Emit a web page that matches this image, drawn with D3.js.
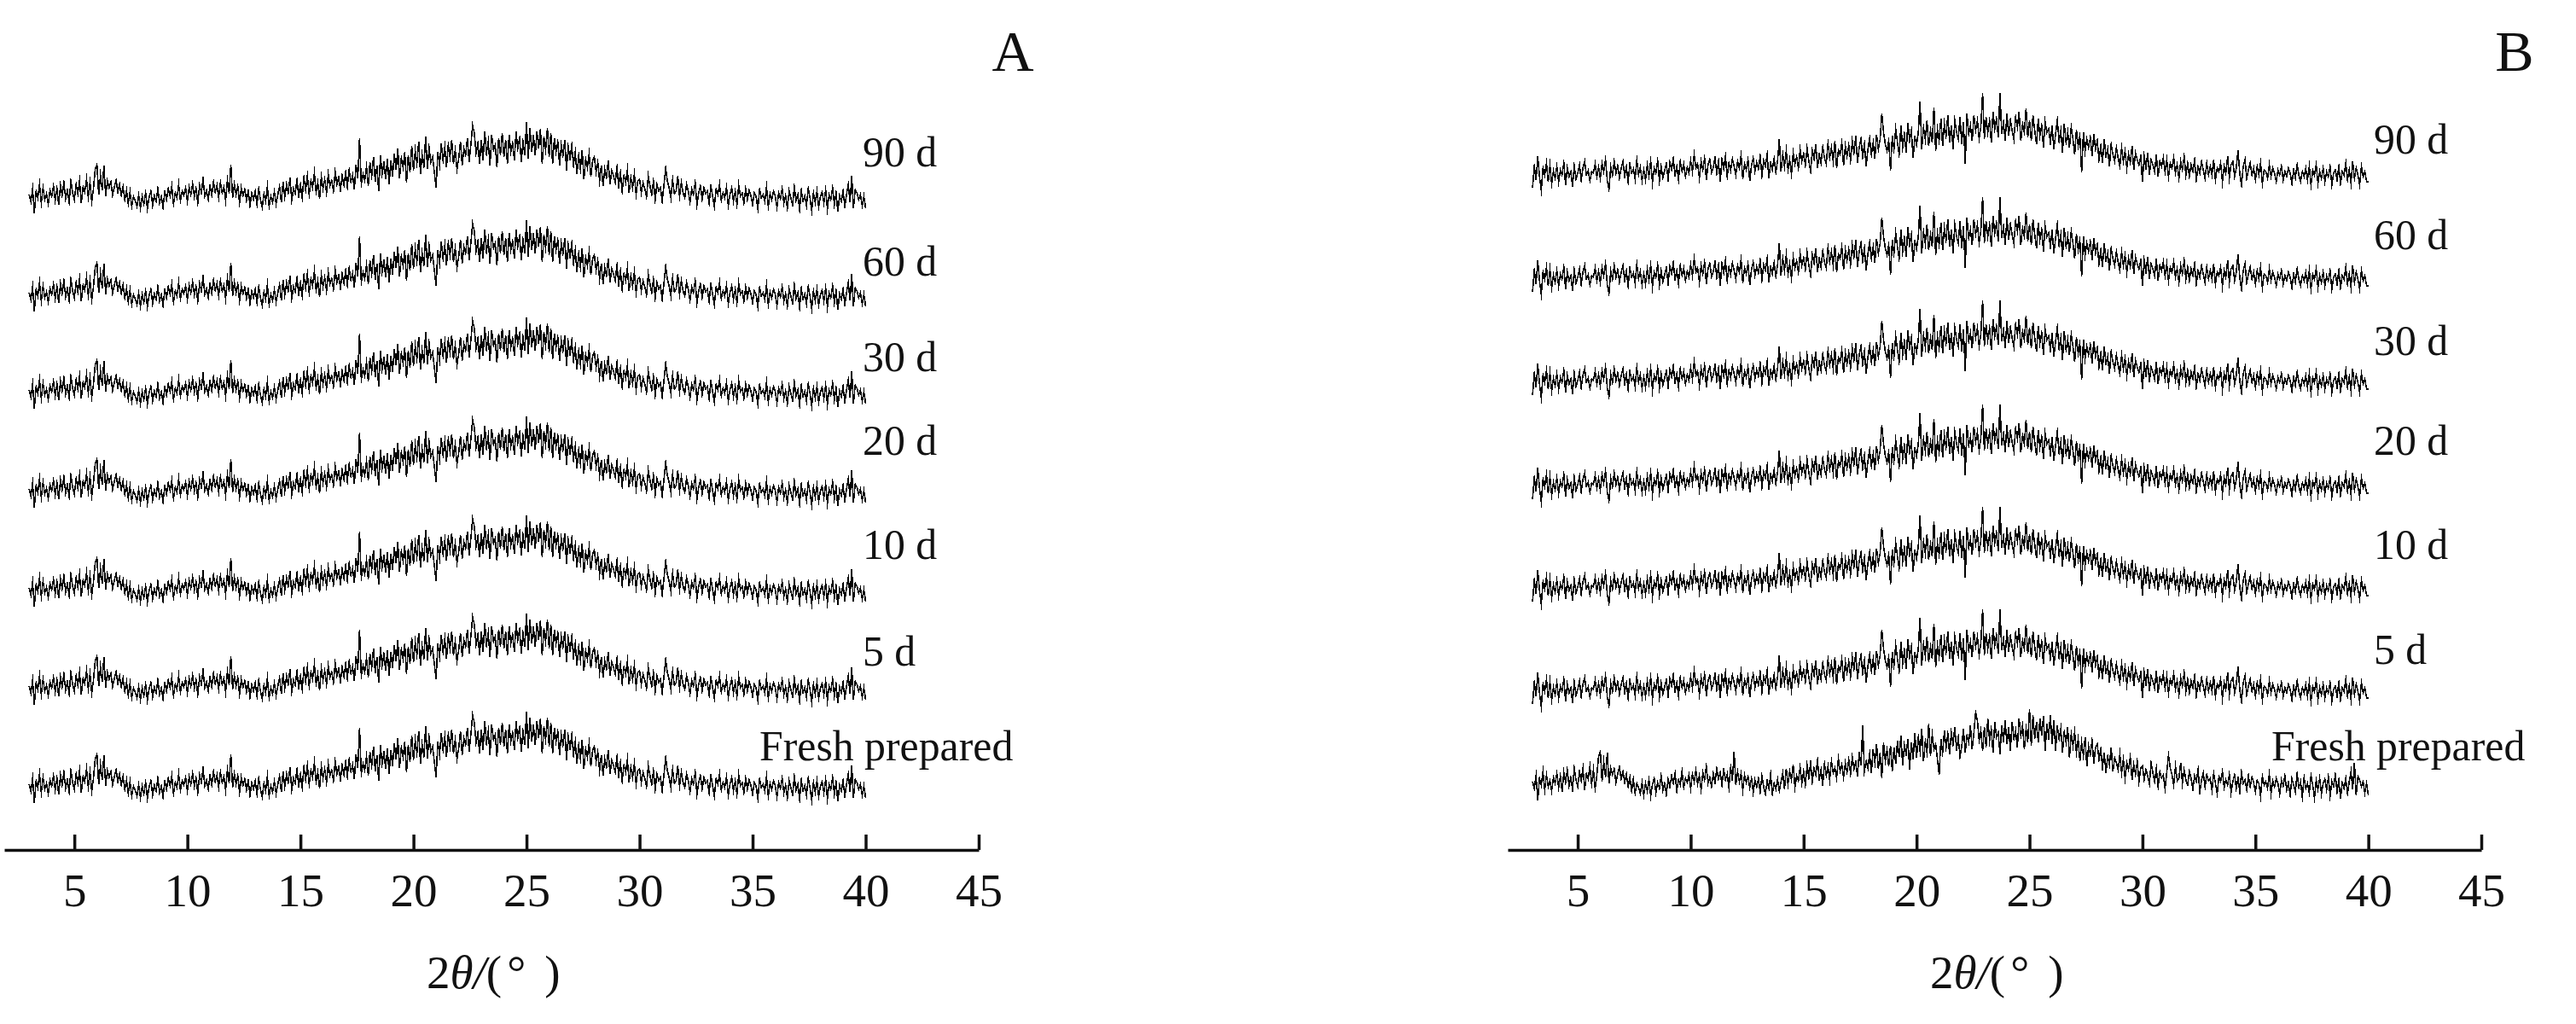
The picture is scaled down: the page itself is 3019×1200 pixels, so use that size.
<!DOCTYPE html>
<html>
<head>
<meta charset="utf-8">
<script src="https://cdn.jsdelivr.net/npm/d3@7/dist/d3.min.js"></script>
<style>
html,body{margin:0;padding:0;background:#fff}
svg{display:block}
text{font-family:"Liberation Serif","Times New Roman",serif;fill:#111}
</style>
</head>
<body>
<svg id="c" width="3019" height="1200"></svg>
<script>
const tickValues = [5,10,15,20,25,30,35,40,45];
const sampleLabels = ["Fresh prepared","5 d","10 d","20 d","30 d","60 d","90 d"];

// Trace (and the "Fresh prepared" trace of panel B); 13 readings per degree, from 3 to 40 degrees
const traceA = [
26,18,33,4,30,22,38,16,34,20,27,15,31,
24,36,19,33,14,37,25,40,21,31,17,42,28,
20,38,27,42,16,35,29,44,23,40,18,33,56,
61,26,49,31,60,24,42,34,41,25,35,43,29,
38,25,35,20,31,15,29,12,24,19,12,25,10,
24,15,28,9,23,30,13,25,18,33,16,24,11,
29,20,33,24,36,15,28,22,38,19,30,25,34,
18,35,26,39,23,33,16,37,28,44,24,31,20,
36,25,41,29,37,22,40,28,35,19,43,27,61,
22,38,26,36,16,34,25,32,19,30,13,28,20,
30,14,33,20,11,27,18,35,12,24,17,29,15,
26,36,17,41,23,38,28,46,19,33,27,43,24,
38,22,46,31,48,26,42,34,51,29,40,21,47,
33,44,28,50,36,42,30,53,38,46,31,48,37,
52,35,55,41,49,32,61,45,92,38,50,42,59,
36,64,48,70,41,60,30,72,50,63,44,68,38,
66,47,74,55,80,45,69,58,76,40,72,52,83,
54,78,62,88,50,73,60,94,56,81,64,70,52,
34,76,60,86,66,82,58,84,70,90,62,78,55,
68,88,60,80,72,92,64,84,107,98,74,86,62,
90,66,100,74,88,60,96,78,84,58,92,72,98,
70,90,62,96,76,86,66,100,80,92,64,88,72,
111,68,104,76,96,72,100,80,103,62,94,78,104,
70,98,62,92,76,88,60,84,72,90,54,82,68,
84,60,76,50,72,56,78,44,68,58,74,47,66,
70,52,64,42,60,36,56,46,66,38,54,48,40,
58,36,52,30,48,40,55,28,46,34,50,26,42,
44,28,40,33,23,48,36,26,42,20,38,30,34,
18,37,57,42,34,22,44,27,30,48,24,40,28,
22,38,30,17,33,26,40,14,28,36,20,34,27,
30,16,36,24,12,32,26,38,19,28,22,35,13,
26,34,18,30,14,37,24,28,16,33,20,31,25,
14,28,24,9,32,22,26,18,35,12,27,20,30,
24,11,28,21,33,16,25,10,30,22,14,35,19,
26,8,31,18,24,13,33,22,7,28,17,30,12,
24,29,16,32,9,26,20,34,14,28,6,25,18,
30,12,26,38,17,48,10,32,28,20,26,13,24,
10];

// Trace, 5 d to 90 d
const traceB = [
5,30,14,42,18,2,28,20,34,12,31,10,25,
16,30,12,26,20,34,8,28,18,24,6,31,15,
22,32,14,28,36,20,25,13,24,22,33,18,29,
16,34,24,38,13,3,30,20,36,22,31,16,28,
36,18,30,12,33,22,27,15,38,20,29,13,26,
14,32,19,36,11,28,22,37,13,30,17,25,33,
15,35,26,39,20,30,14,36,24,33,18,29,22,
37,24,44,28,33,16,36,26,40,14,32,38,23,
29,40,22,36,12,38,27,42,18,34,25,39,30,
20,36,28,43,15,33,26,38,13,31,40,24,35,
27,42,19,37,30,44,16,34,26,39,23,36,62,
24,44,30,48,26,38,21,46,33,41,28,50,36,
45,31,52,36,24,49,39,56,28,44,34,53,40,
33,57,40,52,36,60,28,49,44,58,31,54,42,
55,37,60,46,66,34,52,62,41,56,30,50,63,
44,58,39,67,50,62,92,70,56,48,60,25,66,
50,74,58,44,78,52,68,46,81,60,72,40,64,
55,70,106,50,76,62,84,54,72,58,99,48,74,
60,86,54,80,66,90,58,78,50,84,70,62,88,
56,82,33,92,68,78,60,90,72,84,62,76,116,
62,88,70,84,58,94,74,86,64,116,68,82,60,
92,66,84,72,62,88,76,94,60,80,70,98,64,
84,60,90,72,56,86,66,78,52,82,70,74,58,
78,50,68,84,60,72,46,80,58,70,52,76,62,
44,73,54,66,23,70,48,62,52,64,42,68,50,
60,38,54,34,62,42,50,30,56,44,36,52,40,
30,52,36,48,28,44,34,54,26,46,38,32,42,
12,42,28,46,20,38,32,24,44,18,36,30,40,
24,38,18,34,28,40,22,32,16,36,26,42,20,
34,18,32,24,38,14,30,22,36,26,16,34,20,
30,20,38,14,28,24,34,12,30,22,42,16,32,
36,18,28,49,22,8,30,38,16,26,34,20,28,
14,30,20,34,10,26,24,16,32,18,28,22,12,
26,20,30,14,24,18,28,22,10,26,16,32,20,
12,24,18,28,14,30,8,26,20,32,10,24,16,
28,12,24,18,30,8,22,26,14,30,10,24,20,
34,14,26,10,36,16,28,20,8,30,18,24,12,
12];

// Stacking offsets (intensity units) in order of sampleLabels
const stackA = [0,115,230,346,462,576,691];
const stackB = [3,115,235,355,477,598,720];
const tracesB = [traceA,traceB,traceB,traceB,traceB,traceB,traceB];
const tracesA = [traceA,traceA,traceA,traceA,traceA,traceA,traceA];

const panels = [
  {title:"A", traces:tracesA, stack:stackA, x0:5, x45:1147, titleX:1187, labelX:1011, freshX:890,
   baselines:[891,780,655,533,435,323,195], xLabelX:500},
  {title:"B", traces:tracesB, stack:stackB, x0:1767, x45:2908, titleX:2947, labelX:2782, freshX:2662,
   baselines:[891,778,655,533,416,292,180], xLabelX:2262}
];

const svg = d3.select("#c");
const y = d3.scaleLinear().domain([0,1000]).range([945,-55]);
const axisY = 996;

panels.forEach(p => {
  const x = d3.scaleLinear().domain([1.9,45]).range([p.x0,p.x45]);
  const g = svg.append("g");

  p.traces.forEach((tr,k) => {
    const line = d3.line()
      .x((d,i)=>x(3 + i*37/(tr.length-1)))
      .y(d=>y(d + p.stack[k]));
    g.append("path").datum(tr)
      .attr("d",line).attr("fill","none")
      .attr("stroke","#000").attr("stroke-width",1.6)
      .attr("shape-rendering","crispEdges")
      .attr("stroke-linejoin","miter").attr("stroke-miterlimit",10);
    g.append("text")
      .attr("x", k===0 ? p.freshX : p.labelX)
      .attr("y", p.baselines[k])
      .attr("font-size",49.8)
      .text(sampleLabels[k]);
  });

  const ax = g.append("g").attr("transform",`translate(0,${axisY})`)
    .call(d3.axisBottom(x).tickValues(tickValues).tickFormat(d3.format("d"))
      .tickSizeInner(-18).tickSizeOuter(0));
  ax.selectAll("path.domain").attr("stroke","#111").attr("stroke-width",3.5);
  ax.selectAll(".tick line").attr("stroke","#111").attr("stroke-width",3.5);
  ax.selectAll(".tick text")
    .attr("y",66).attr("dy",0)
    .attr("font-size",55)
    .attr("font-family",'"Liberation Serif"')
    .attr("fill","#111");

  const t = g.append("text").attr("x",p.xLabelX).attr("y",1158).attr("font-size",55);
  t.append("tspan").text("2");
  t.append("tspan").attr("font-style","italic").text("θ/");
  t.append("tspan").text("(");
  t.append("tspan").attr("dx",6).text("°");
  t.append("tspan").attr("dx",22).text(")");

  g.append("text").attr("x",p.titleX).attr("y",83)
    .attr("font-size",68).attr("text-anchor","middle").text(p.title);
});
</script>
</body>
</html>
